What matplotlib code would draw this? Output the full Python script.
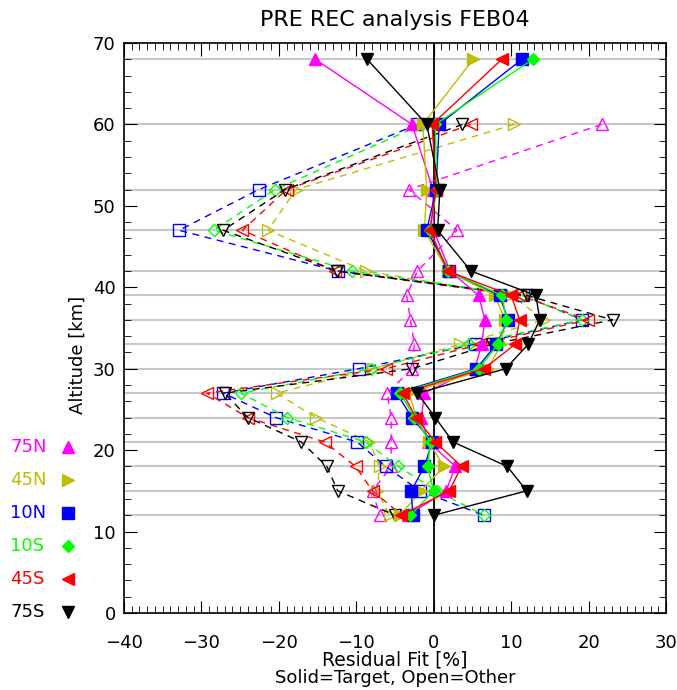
import matplotlib
matplotlib.use("Agg")
import matplotlib.pyplot as plt
from matplotlib.ticker import MultipleLocator

# altitude levels [km]
alt_target = [68, 60, 52, 47, 42, 39, 36, 33, 30, 27, 24, 21, 18, 15, 12]
alt_other = [60, 52, 47, 42, 39, 36, 33, 30, 27, 24, 21, 18, 15, 12]

# residual fit [%], solid = target
t_75N = [-15.3, -2.8, -0.1, 0.0, 2.1, 5.8, 6.6, 6.2, 5.3, -1.2, -1.6, -0.7, 2.8, 1.6, -3.3]
t_45N = [5.1, -1.4, -0.9, -1.2, 1.8, 7.9, 9.2, 8.7, 7.0, -3.2, -2.2, -0.6, 1.3, -1.6, -4.4]
t_10N = [11.4, 0.7, 0.3, -0.9, 2.0, 8.5, 9.6, 8.1, 5.5, -4.8, -2.8, -0.2, -1.2, -2.9, -2.7]
t_10S = [12.8, 0.2, 0.4, -0.5, 1.9, 8.8, 9.4, 8.3, 5.8, -4.3, -2.5, -0.4, -0.8, 0.0, -3.0]
t_45S = [8.8, -0.2, 0.3, -0.5, 1.8, 10.0, 11.1, 10.5, 6.5, -4.0, -2.3, 0.2, 3.6, 2.0, -4.2]
t_75S = [-8.6, -0.9, 0.8, 0.5, 4.8, 13.2, 13.7, 12.2, 9.3, -2.1, 0.2, 2.5, 9.5, 12.0, 0.0]

# open = other
o_75N = [21.7, -3.2, 3.0, -2.1, -3.5, -3.0, -2.5, -2.8, -6.0, -5.5, -5.5, -5.5, -7.9, -7.0]
o_45N = [10.4, -17.8, -21.4, -8.8, 10.0, 14.3, 3.4, -7.8, -20.3, -15.2, -8.3, -7.0, -7.3, -5.7]
o_10N = [-2.1, -22.6, -32.9, -12.4, 11.5, 19.2, 5.3, -9.7, -27.2, -20.4, -9.9, -6.2, -1.8, 6.5]
o_10S = [-1.5, -20.5, -28.4, -10.6, 11.5, 19.2, 4.5, -8.1, -24.9, -18.9, -8.8, -4.6, 0.4, 6.5]
o_45S = [4.8, -19.0, -24.7, -12.7, 11.1, 19.9, 6.0, -6.2, -29.3, -24.0, -14.1, -10.1, -7.9, -4.1]
o_75S = [3.7, -19.2, -27.2, -12.5, 12.0, 23.1, 7.5, -2.8, -27.0, -24.0, -17.1, -13.8, -12.4, -5.0]

names = ['75N', '45N', '10N', '10S', '45S', '75S']
colors = ['#FF00FF', '#BEBE00', '#0000FF', '#00FF00', '#FF0000', '#000000']
markers = ['^', '>', 's', 'D', '<', 'v']
targets = [t_75N, t_45N, t_10N, t_10S, t_45S, t_75S]
others = [o_75N, o_45N, o_10N, o_10S, o_45S, o_75S]

fig = plt.figure(figsize=(6.77, 6.90), dpi=100)
ax = fig.add_axes([124/677, 77/690, 542/677, 570/690])

for lev in alt_target:
    ax.axhline(lev, color='#c8c8c8', lw=1.5, zorder=0)
ax.axvline(0, color='black', lw=1.3, zorder=1)

for c, m, o in zip(colors, markers, others):
    ms = 6 if m == 'D' else 8
    ax.plot(o, alt_other, color=c, ls=(0, (5, 4)), lw=1, marker=m, ms=ms,
            mfc='none', mec=c, mew=1)
for c, m, t in zip(colors, markers, targets):
    ms = 6 if m == 'D' else 8
    ax.plot(t, alt_target, color=c, ls='-', lw=1, marker=m, ms=ms, mfc=c, mec=c)

ax.set_xlim(-40, 30)
ax.set_ylim(0, 70)
ax.xaxis.set_major_locator(MultipleLocator(10))
ax.xaxis.set_minor_locator(MultipleLocator(1))
ax.yaxis.set_major_locator(MultipleLocator(10))
ax.yaxis.set_minor_locator(MultipleLocator(2))
ax.tick_params(which='both', direction='in', top=True, right=True, labelsize=13)
ax.tick_params(which='major', length=9)
ax.tick_params(which='minor', length=5)
ax.tick_params(axis='x', pad=15)
ax.tick_params(axis='y', pad=6)
for s in ax.spines.values():
    s.set_linewidth(1.2)

fig.text(395/677, 1 - 20/690, 'PRE REC analysis FEB04', fontsize=16,
         ha='center', va='center')
fig.text(395/677, 1 - 660/690, 'Residual Fit [%]', fontsize=13.5,
         ha='center', va='center')
fig.text(395/677, 1 - 678/690, 'Solid=Target, Open=Other', fontsize=13,
         ha='center', va='center')
fig.text(78/677, 1 - 355/690, 'Altitude [km]', rotation=90, fontsize=13,
         ha='center', va='center')

# legend at left side
for i, (n, c, m) in enumerate(zip(names, colors, markers)):
    yy = 1 - (447 + 33*i)/690
    fig.text(10/677, yy, n, color=c, fontsize=13, ha='left', va='center')
    ax.plot([68/677], [yy], transform=fig.transFigure, marker=m, color=c,
            ms=6 if m == 'D' else 8, clip_on=False)

fig.savefig('out.png', dpi=100)
